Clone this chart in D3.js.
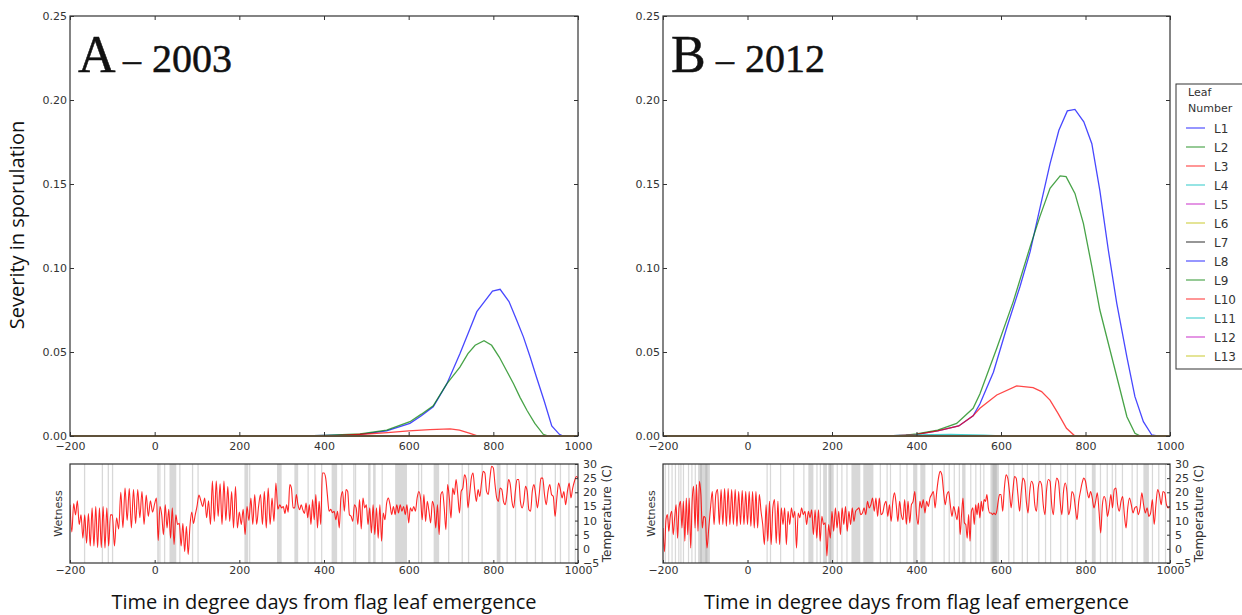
<!DOCTYPE html>
<html>
<head>
<meta charset="utf-8">
<script src="https://cdn.jsdelivr.net/npm/d3@7"></script>
<style>
  body { margin: 0; background: #fff; }
  svg { display: block; }
  .tick text { font-family: "DejaVu Sans", sans-serif; font-size: 11px; fill: #333; }
</style>
</head>
<body>
<svg id="chart" width="1242" height="615"></svg>
<script>
// ---------- data ----------
const xTicks = [-200, 0, 200, 400, 600, 800, 1000];
const sevTicks = [0, 0.05, 0.10, 0.15, 0.20, 0.25];
const tempTicks = [-5, 0, 5, 10, 15, 20, 25, 30];
const leafNames = ["L1","L2","L3","L4","L5","L6","L7","L8","L9","L10","L11","L12","L13"];
const leafColors = ["#0000ff","#008000","#ff0000","#00bfbf","#bf00bf","#bfbf00","#000000",
                    "#0000ff","#008000","#ff0000","#00bfbf","#bf00bf","#bfbf00"];

// severity in sporulation, [degree days, severity]
const noLesions = [[-200, 0], [1000, 0]];

const sevA_L1 = [[-200,0],[350,0],[400,0.0003],[450,0.0007],[485,0.001],[548,0.003],[603,0.0075],
  [630,0.012],[658,0.0174],[690,0.031],[721,0.049],[742,0.062],[761,0.074],[779,0.080],[798,0.0863],
  [816,0.0873],[837,0.080],[855,0.069],[871,0.059],[887,0.047],[902,0.035],[920,0.021],[938,0.006],
  [956,0.001],[965,0],[1000,0]];
const sevA_L2 = [[-200,0],[350,0],[400,0.0003],[485,0.0012],[548,0.0035],[603,0.0085],[630,0.013],
  [658,0.018],[690,0.031],[721,0.041],[740,0.049],[757,0.054],[778,0.0567],[796,0.054],[814,0.047],
  [831,0.039],[848,0.031],[863,0.023],[880,0.015],[898,0.0075],[918,0.001],[930,0],[1000,0]];
const sevA_L3 = [[-200,0],[420,0],[450,0.0005],[500,0.0012],[550,0.002],[600,0.003],[650,0.0038],
  [698,0.0042],[720,0.0035],[745,0.0015],[764,0],[1000,0]];

const sevB_L1 = [[-200,0],[330,0],[375,0.0005],[400,0.001],[450,0.003],[500,0.006],[534,0.012],
  [550,0.019],[582,0.038],[613,0.064],[645,0.089],[669,0.1097],[692,0.1355],[716,0.162],[737,0.182],
  [757,0.1935],[775,0.1944],[796,0.187],[815,0.174],[834,0.146],[854,0.1107],[874,0.079],[898,0.047],
  [917,0.0234],[937,0.0085],[957,0.0006],[970,0],[1000,0]];
const sevB_L2 = [[-200,0],[330,0],[375,0.0005],[400,0.0012],[450,0.0035],[495,0.0075],[534,0.0165],
  [550,0.025],[590,0.0522],[629,0.080],[669,0.1127],[692,0.1306],[716,0.1474],[740,0.1548],[754,0.1544],
  [775,0.1444],[795,0.1266],[815,0.1008],[834,0.075],[858,0.0512],[878,0.0314],[898,0.0115],
  [917,0.0016],[930,0],[1000,0]];
const sevB_L3 = [[-200,0],[350,0],[400,0.001],[450,0.003],[500,0.006],[534,0.012],[550,0.0165],
  [590,0.0244],[637,0.0298],[676,0.0288],[696,0.0264],[716,0.0214],[735,0.0135],[755,0.0046],
  [775,0],[1000,0]];
const sevB_L4 = [[-200,0],[350,0],[400,0.0006],[480,0.0009],[560,0.0005],[600,0],[1000,0]];

// hourly temperature extremes (C), one list per 100 degree-day block from -200
const tempA2003 = [
  [15.6,6,16,12,17,8.6,12,3.8,12,2,12.5,1,14.5,1,15,0.5,14.5,0.5,15,0.3,14.5,1,12],
  [12,1,11,7,20,7.5,21.5,10,21.3,7.4,21,9,21,11,20.3,8.6,19,11.5,17,13],
  [16,18,3,15,12,5,15.6,7.4,14,3.8,14.5,1.5,12,8.6,9,1,9,-1,8,-2,8,13,9,12],
  [15,19,17,15,18,11,17,8.6,24,9.7,24,11.5,23,8.6,24,10,22,9.7,20.3,7.4,22,7.4],
  [13,8.6,14,5,15,10,18,8.6,19.2,8.6,15,19.2,8.6,20.3,7.4,21.5,8.6,18,9.7,23.3,14,15.6],
  [14.5,15,12.5,15.6,13,22.7,21.5,14.5,14.5,19.2,15.6,13.8,15.6,13.8,12.5,16.2,11,15.6,8.6,17.4,10.3,19.2,7.4,16.8,8.6,26.8],
  [26.8,25,19,13.3,14,12.8,13.3,10.3,13.3,7.4,18,20.3,13.3,21,20.3,12.1,11.5,9.7,15.6,14.5,8.6,17.4,7,18,14.5],
  [15.6,8.6,14.5,5.6,15.6,5,14.5,3.8,15.6,2.7,12.7,10.3,16.2,18,15.6,12.1,15,12.1,15.6,12.7,15.6,13.3,15,12.1,15.6],
  [9.2,14.5,13.3,15,13.3,18,20.3,18,10.3,19.2,9.7,16.8,13.3,9.2,16.8,14.5,7.4,15.6,5,19.2,20.3,14.5,6.8,22.7,18],
  [10.9,21.5,19.2,24.5,19.2,12.7,20.3,21.5,26.2,24.5,14.5,19.2,25,26.8,21,16.8,21,18.5,23.3,27.4,26.8,20.3,19.2,25,29.2],
  [28.6,22.7,18,16.8,21.5,21,16.8,15.6,19.2,24.5,22.7,16.8,14.5,20.3,24.5,24.5,16.8,14.5,16.8,22.1,20.3,13.8,13.3,20.3,22.7],
  [19.2,14.5,19.2,25,25,19.2,15.6,20.3,22.7,19.2,18.5,11.5,18,23.3,21,18,20.3,15.6,20.3,23.3,18,21.5,23.9,25.6,25]
];
const tempB2012 = [
  [7.4,-1,10,12.1,6.2,11.5,13.3,5,11,15.6,3.8,14.5,16.8,7.4,16.8,2.7,18,5,18,0.3,16.8,22.1,7.4,22.7,6.2,23.9,19.2,7.4,11.5],
  [11,0.3,7.4,14.5,20.3,8.6,19.2,21,8.6,21,8.6,21.3,8,21.3,8.6,21,8.6,21,8,20.3,8.6,20.6,8.6,20.3],
  [8.6,20.3,8,20.3,7.4,20.3,7.4,19.2,13.3,8.6,1.5,15.6,2.7,16.8,1.5,14.5,17.4,2,16.8,1.5,14.5,8.6,14.5,1.5,13.3],
  [8.6,14.5,11,13.3,0.3,12.7,11,14.5,12.1,13.3,8.6,13.3,11,13.8,5,13.8,3.8,13.8,2.7,11.5,8.6,9.2,-2.5,8.6,3.8],
  [13.3,6.2,14.5,7.4,13.3,5,14.5,8.6,15,6.2,13.3,8.6,14.5,9.7,13.3,14,14.5,12.1,12.7,14.5,12.1,16.8,14.5,15.6,18],
  [13.3,18,11.5,18,12.1,12.7,15.6,16.8,11.5,15.6,9.7,16.8,19.8,15.6,9.7,16.8,12.1,10.3,17.4,8.6,16.8,9.2,15.6,16.8,20.3],
  [12.1,8.6,16.8,14.5,17.4,12.7,16.8,15,18,19.2,20.3,14.5,20.3,25,27.4,26.2,20.3,15.6,19.2,20.3,15.6,11.5,15,12.7,10.3],
  [15,5,12.1,18,9.2,8.6,3.8,12.1,2.7,13.3,14.5,8.6,15.6,12.1,16.2,10.9,16.8,13.3,17.4,16.8,19.2,14.5,12.7,12.7,12.1,12.7,12.1,13.3,16.8,19.2],
  [19.2,13.3,21.5,26.2,25,20.3,14.5,20.3,25.6,25,19.2,13.3,20.3,25,23.9,16.8,12.7,20.3,23.9,22.7,15.6,13.3,21.5,23.9,22.7],
  [15.6,12.1,21,24.5,23.9,15.6,12.1,21,25,23.9,16.8,12.1,20.3,23.3,20.3,12.1,14.5,20.3,19.2,14.5,10.3,16.8,20.3,23.3,25],
  [23.9,20.3,18,20.3,18,14.5,16.8,19.8,13.3,5.6,15.6,18.5,16.8,11.5,14.5,19.2,14.5,21,21.5,15.6,13.3,16.8,18.5,12.1,7.4],
  [14.5,18,15.6,12.7,14.5,15,12.1,14.5,19.8,15.6,12.7,14.5,11.5,12.7,17.4,8.6,15.6,21,19.2,15.6,20.3,19.8,15.6,14.5,15]
];

// leaf wetness periods, [start, end] in degree days
const wetA2003 = [[-167,-164],[-125,-122],[-111,-108],[-101,-98],[6,10],[11,13],[22,25],[35,51],[58,61],
  [88,91],[101,104],[212,221],[223,226],[289,300],[330,339],[361,364],[377,380],[393,396],[418,431],
  [441,444],[469,472],[473,476],[504,510],[516,522],[536,539],[568,596],[622,625],[629,632],[659,672],
  [693,696],[725,728],[740,743],[772,775],[808,817],[831,834],[851,854],[878,881],[898,901],[914,917],
  [945,948],[957,960],[977,980],[992,995]];
const wetB2012 = [[-196,-194],[-188,-186],[-180,-178],[-172,-170],[-164,-162],[-159,-157],[-153,-151],
  [-141,-139],[-133,-131],[-125,-123],[-117,-89],[-112,-108],[-100,-95],[45,47],[53,55],[77,79],[108,110],
  [132,134],[144,156],[163,165],[171,173],[179,188],[191,204],[194,198],[211,213],[222,224],[234,236],
  [246,267],[274,298],[313,315],[329,331],[337,339],[360,362],[376,378],[392,402],[409,421],[436,438],
  [464,466],[476,478],[488,490],[500,502],[508,516],[527,529],[539,541],[550,552],[558,560],[575,595],
  [580,590],[617,619],[629,631],[649,651],[661,663],[688,690],[704,706],[716,718],[740,742],[756,758],
  [775,777],[799,801],[815,824],[834,836],[850,852],[862,864],[870,872],[886,888],[909,911],[921,923],
  [937,950],[957,959],[972,974],[988,990]];

const panels = [
  { letter: "A", year: "2003", left: 70, right: 578,
    leaves: [sevA_L1, sevA_L2, sevA_L3, noLesions, noLesions, noLesions, noLesions, noLesions,
             noLesions, noLesions, noLesions, noLesions, noLesions],
    temp: tempA2003, wet: wetA2003, legend: false },
  { letter: "B", year: "2012", left: 663, right: 1170,
    leaves: [sevB_L1, sevB_L2, sevB_L3, sevB_L4, noLesions, noLesions, noLesions, noLesions,
             noLesions, noLesions, noLesions, noLesions, noLesions],
    temp: tempB2012, wet: wetB2012, legend: true }
];

// ---------- drawing ----------
const svg = d3.select("#chart");
const top0 = 16, top1 = 436, strip0 = 464, strip1 = 563;
const frameColor = "#333";
const minusFmt = d => d < 0 ? "\u2212" + Math.abs(d) : d;

function blockPoints(blocks) {
  const pts = [];
  blocks.forEach((blk, i) => {
    const start = -200 + i * 100;
    const n = i === blocks.length - 1 ? blk.length - 1 : blk.length;
    blk.forEach((t, j) => pts.push([start + j * 100 / n, t]));
  });
  return pts;
}

function cleanAxis(g) {
  g.select(".domain").remove();
  g.selectAll(".tick line").attr("stroke", frameColor);
}

panels.forEach((p, pi) => {
  const x = d3.scaleLinear().domain([-200, 1000]).range([p.left, p.right]);
  const y = d3.scaleLinear().domain([0, 0.25]).range([top1, top0]);
  const yT = d3.scaleLinear().domain([-5, 30]).range([strip1, strip0]);

  const clipTop = "clipTop" + pi, clipStrip = "clipStrip" + pi;
  const defs = svg.append("defs");
  defs.append("clipPath").attr("id", clipTop).append("rect")
    .attr("x", p.left).attr("y", top0).attr("width", p.right - p.left).attr("height", top1 - top0 + 1);
  defs.append("clipPath").attr("id", clipStrip).append("rect")
    .attr("x", p.left).attr("y", strip0).attr("width", p.right - p.left).attr("height", strip1 - strip0);

  // severity curves
  const line = d3.line().x(d => x(d[0])).y(d => y(d[1]));
  const gLines = svg.append("g").attr("clip-path", `url(#${clipTop})`);
  p.leaves.forEach((s, i) => {
    gLines.append("path").attr("d", line(s)).attr("fill", "none")
      .attr("stroke", leafColors[i]).attr("stroke-opacity", 0.72).attr("stroke-width", 1.3);
  });

  // top frame and axes
  svg.append("rect").attr("x", p.left).attr("y", top0).attr("width", p.right - p.left)
    .attr("height", top1 - top0).attr("fill", "none").attr("stroke", frameColor).attr("stroke-width", 1.2);
  svg.append("g").attr("transform", `translate(0,${top1})`)
    .call(d3.axisBottom(x).tickValues(xTicks).tickSize(-4).tickPadding(6).tickFormat(minusFmt))
    .call(cleanAxis);
  svg.append("g").attr("transform", `translate(0,${top0})`)
    .call(d3.axisTop(x).tickValues(xTicks).tickSize(-4).tickFormat("")).call(cleanAxis);
  svg.append("g").attr("transform", `translate(${p.left},0)`)
    .call(d3.axisLeft(y).tickValues(sevTicks).tickSize(-4).tickPadding(3).tickFormat(d3.format(".2f")))
    .call(cleanAxis);
  svg.append("g").attr("transform", `translate(${p.right},0)`)
    .call(d3.axisRight(y).tickValues(sevTicks).tickSize(-4).tickFormat("")).call(cleanAxis);

  // panel title
  const title = svg.append("text").attr("y", 72).attr("font-family", "Liberation Serif, DejaVu Serif, serif")
    .attr("fill", "#111").attr("stroke", "#111").attr("stroke-width", 0.5);
  title.append("tspan").attr("x", p.left + 8).attr("font-size", 52).text(p.letter);
  title.append("tspan").attr("x", p.left + 53).attr("font-size", 36).text("\u2013");
  title.append("tspan").attr("x", p.left + 82).attr("font-size", 40).text(p.year);

  // wetness periods and temperature
  const gStrip = svg.append("g").attr("clip-path", `url(#${clipStrip})`);
  gStrip.selectAll("rect.wet").data(p.wet).join("rect").attr("class", "wet")
    .attr("x", d => x(d[0])).attr("y", strip0)
    .attr("width", d => Math.max(1.2, x(d[1]) - x(d[0]))).attr("height", strip1 - strip0)
    .attr("fill", "#a8a8a8").attr("fill-opacity", 0.45);
  const tLine = d3.line().x(d => x(d[0])).y(d => yT(d[1])).curve(d3.curveMonotoneX);
  gStrip.append("path").attr("d", tLine(blockPoints(p.temp))).attr("fill", "none")
    .attr("stroke", "#ff0000").attr("stroke-opacity", 0.85).attr("stroke-width", 1.1);

  svg.append("rect").attr("x", p.left).attr("y", strip0).attr("width", p.right - p.left)
    .attr("height", strip1 - strip0).attr("fill", "none").attr("stroke", frameColor).attr("stroke-width", 1.2);
  svg.append("g").attr("transform", `translate(0,${strip1})`)
    .call(d3.axisBottom(x).tickValues(xTicks).tickSize(-3).tickPadding(3).tickFormat(minusFmt))
    .call(cleanAxis);
  svg.append("g").attr("transform", `translate(${p.right},0)`)
    .call(d3.axisRight(yT).tickValues(tempTicks).tickSize(-3).tickPadding(5).tickFormat(minusFmt))
    .call(cleanAxis);

  // strip labels
  svg.append("text").attr("transform", `translate(${p.left - 8},${(strip0 + strip1) / 2}) rotate(-90)`)
    .attr("text-anchor", "middle").attr("font-family", "DejaVu Sans, sans-serif").attr("font-size", 11)
    .attr("fill", "#333").text("Wetness");
  svg.append("text").attr("transform", `translate(${p.right + 33},${(strip0 + strip1) / 2}) rotate(-90)`)
    .attr("text-anchor", "middle").attr("font-family", "DejaVu Sans, sans-serif").attr("font-size", 12)
    .attr("fill", "#333").text("Temperature (C)");

  // x axis title
  svg.append("text").attr("x", (p.left + p.right) / 2).attr("y", 609).attr("text-anchor", "middle")
    .attr("font-family", "Open Sans, sans-serif").attr("font-size", 20).attr("fill", "#111")
    .text("Time in degree days from flag leaf emergence");

  if (p.legend) {
    const lx = p.right + 6, ly = 84;
    const lg = svg.append("g");
    lg.append("rect").attr("x", lx).attr("y", ly).attr("width", 90).attr("height", 285)
      .attr("fill", "#fff").attr("stroke", frameColor).attr("stroke-width", 1);
    lg.append("text").attr("x", lx + 12).attr("y", ly + 12).attr("font-family", "DejaVu Sans, sans-serif")
      .attr("font-size", 11).attr("fill", "#333").text("Leaf");
    lg.append("text").attr("x", lx + 12).attr("y", ly + 28).attr("font-family", "DejaVu Sans, sans-serif")
      .attr("font-size", 11).attr("fill", "#333").text("Number");
    leafNames.forEach((nm, i) => {
      const yy = ly + 44 + i * 19;
      lg.append("line").attr("x1", lx + 10).attr("x2", lx + 29).attr("y1", yy).attr("y2", yy)
        .attr("stroke", leafColors[i]).attr("stroke-opacity", 0.55).attr("stroke-width", 1.5);
      lg.append("text").attr("x", lx + 38).attr("y", yy + 4.5).attr("font-family", "DejaVu Sans, sans-serif")
        .attr("font-size", 12).attr("fill", "#333").text(nm);
    });
  }
});

// shared y axis title
svg.append("text").attr("transform", "translate(24,225) rotate(-90)").attr("text-anchor", "middle")
  .attr("font-family", "Open Sans, sans-serif").attr("font-size", 20).attr("fill", "#111")
  .text("Severity in sporulation");
</script>
</body>
</html>
